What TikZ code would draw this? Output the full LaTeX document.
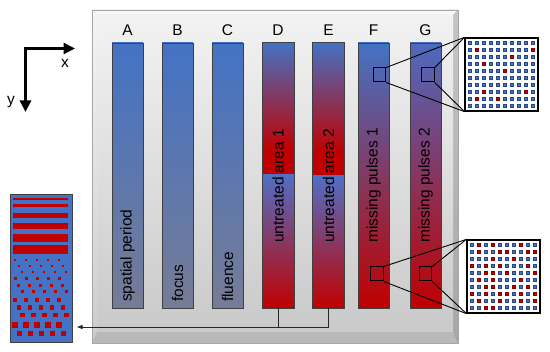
\documentclass[tikz,border=0pt]{standalone}
\usepackage{fontspec}
\setmainfont{Liberation Sans}
\usetikzlibrary{arrows.meta,calc}
\definecolor{pblue}{RGB}{68,114,196}
\definecolor{pred}{RGB}{192,0,0}
\definecolor{abot}{RGB}{118,124,150}
\definecolor{lblue}{RGB}{80,112,198}
\definecolor{fmid}{RGB}{125,65,135}
\definecolor{gtop}{RGB}{78,106,192}
\definecolor{gmid}{RGB}{150,40,95}
\definecolor{dmid}{RGB}{140,50,100}
\definecolor{sqedge}{RGB}{40,70,140}
\tikzset{
  bar/.style={draw=black!75, line width=0.8pt, minimum width=31pt, minimum height=265pt, inner sep=0pt},
  barborder/.style={draw=black!75, line width=0.8pt},
  lab/.style={inner sep=0pt},
  vtext/.style={rotate=90, anchor=west, inner sep=0pt},
  zbox/.style={draw=black, line width=1.2pt, fill=white, minimum width=73pt, minimum height=73pt, inner sep=0pt},
  mark box/.style={draw=black, line width=1pt, minimum width=12.5pt, minimum height=14pt, inner sep=0pt},
  zline/.style={draw=black, line width=0.9pt},
  bsq/.style={fill=pblue, draw=sqedge, line width=0.25pt},
  rsq/.style={fill=pred, draw=pred!70!black, line width=0.25pt},
  axis/.style={line width=3.3pt, line join=miter, {Triangle[length=11.5pt,width=11pt]}-{Triangle[length=11.5pt,width=11pt]}},
  conn/.style={draw=black!85, line width=0.8pt}
}
\begin{document}
\begin{tikzpicture}[x=1pt,y=-1pt, font=\fontsize{15.5}{18}\selectfont]
\useasboundingbox (0,0) rectangle (550,352);
% ---------- panel ----------
\shade[top color=gray!12, bottom color=gray!55] (92,10) rectangle (458,343);
\fill[gray!6] (92,10) -- (458,10) -- (453,15) -- (97,15) -- cycle;
\shade[top color=gray!8, bottom color=gray!40] (92,10) -- (97,15) -- (97,332) -- (92,343) -- cycle;
\fill[gray!55] (92,343) -- (97,332) -- (453,332) -- (458,343) -- cycle;
\shade[top color=gray!45, bottom color=gray!70] (458,10) -- (453,15) -- (453,332) -- (458,343) -- cycle;
\shade[top color=gray!10, bottom color=gray!42] (97,15) rectangle (453,332);
\draw[gray!70, line width=0.6pt] (92,10) rectangle (458,343);
% ---------- column labels ----------
\node[lab] (lA) at (127.5,30) {A};
\node[lab] (lB) at (177.5,30) {B};
\node[lab] (lC) at (227.5,30) {C};
\node[lab] (lD) at (278,30) {D};
\node[lab] (lE) at (328.5,30) {E};
\node[lab] (lF) at (373.5,30) {F};
\node[lab] (lG) at (425.5,30) {G};
% ---------- bars ----------
\node[bar, top color=pblue, bottom color=abot] (A) at (127.5,175.5) {};
\node[bar, top color=pblue, bottom color=abot] (B) at (177.5,175.5) {};
\node[bar, top color=pblue, bottom color=abot] (C) at (227.5,175.5) {};
\node[bar, top color=lblue, bottom color=pred] (D) at (278,175.5) {};
\node[bar, top color=lblue, bottom color=pred] (E) at (328.5,175.5) {};
\node[bar, top color=pblue, middle color=fmid, bottom color=pred] (F) at (373.5,175.5) {};
\node[bar, top color=gtop, middle color=gmid, bottom color=pred] (G) at (425.5,175.5) {};
% lower parts of D and E (blue -> red), upper parts (blue -> red)
\shade[top color=lblue, middle color=dmid, bottom color=pred] (D.west |- 0,174) rectangle (D.south east);
\shade[top color=lblue, middle color=dmid, bottom color=pred] (E.west |- 0,175) rectangle (E.south east);
\fill[pred] (D.west |- 0,150) rectangle (D.east |- 0,174);
\fill[pred] (E.west |- 0,152) rectangle (E.east |- 0,175);
\shade[top color=pblue, bottom color=pred] (D.north west) rectangle (D.east |- 0,150);
\shade[top color=pblue, bottom color=pred] (E.north west) rectangle (E.east |- 0,152);
\draw[barborder] (D.north west) rectangle (D.south east);
\draw[barborder] (E.north west) rectangle (E.south east);
% ---------- bar texts ----------
\node[vtext] (tA) at (127.5,302) {spatial period};
\node[vtext] (tB) at (177.5,302) {focus};
\node[vtext] (tC) at (227.5,302) {fluence};
\node[vtext] (tD) at (278,243) {untreated area 1};
\node[vtext] (tE) at (328.5,243) {untreated area 2};
\node[vtext] (tF) at (373.5,243) {missing pulses 1};
\node[vtext] (tG) at (425.5,243) {missing pulses 2};
% ---------- zoom boxes ----------
\node[zbox] (z1) at (501.5,74.5) {};
\node[zbox] (z2) at (503.5,276.5) {};
\node[mark box] (mF1) at (379.5,75) {};
\node[mark box] (mG1) at (428,75) {};
\node[mark box] (mF2) at (377,274) {};
\node[mark box] (mG2) at (425.5,274) {};
\draw[zline] (mF1.north east) -- (z1.north west);
\draw[zline] (mF1.south east) -- (z1.south west);
\draw[zline] (mG1.north east) -- (z1.north west);
\draw[zline] (mG1.south east) -- (z1.south west);
\draw[zline] (mF2.north east) -- (z2.north west);
\draw[zline] (mF2.south east) -- (z2.south west);
\draw[zline] (mG2.north east) -- (z2.north west);
\draw[zline] (mG2.south east) -- (z2.south west);
% grids
\foreach \i in {0,...,9}{
  \foreach \j in {0,...,9}{
    \path[bsq] ($(z1.north west)+(5+7*\i-1.7,5+7*\j-1.7)$) rectangle ++(3.4,3.4);
    \path[bsq] ($(z2.north west)+(5+7*\i-1.7,5+7*\j-1.7)$) rectangle ++(3.4,3.4);
  }
}
\foreach \c/\r in {2/2,10/2,7/3,3/4,6/5,3/8,9/8,2/9,5/9}{
  \path[rsq] ($(z1.north west)+(5+7*\c-7-1.7,5+7*\r-7-1.7)$) rectangle ++(3.4,3.4);
}
\foreach \c/\r in {2/1,4/1,8/1, 2/2,5/2,6/2,9/2,10/2, 4/3,7/3, 1/4,3/4,5/4,9/4, 3/5,4/5,6/5,10/5, 2/6,4/6,8/6, 3/7,4/7,7/7,9/7, 1/8,3/8,5/8,6/8,8/8,10/8, 2/9,5/9,8/9,10/9, 3/10,4/10}{
  \path[rsq] ($(z2.north west)+(5+7*\c-7-1.7,5+7*\r-7-1.7)$) rectangle ++(3.4,3.4);
}
% ---------- axes ----------
\coordinate (xo) at (25.5,48.5);
\coordinate (xt) at (75,48.5);
\coordinate (yt) at (25.5,112);
\draw[axis] (xt) -- (xo) -- (yt);
\node[lab] (xl) at (65,63) {x};
\node[lab] (yl) at (11,102) {y};
% ---------- left strip ----------
\node[draw=black!75, line width=0.8pt, fill=pblue, minimum width=62pt, minimum height=148pt, inner sep=0pt] (strip) at (41,268) {};
\foreach \a/\b in {197.7/200.3, 204/207.3, 213/218, 223/229.3, 233.7/241.7, 245/254}{
  \fill[pred] (13,\a) rectangle (68,\b);
}
\foreach \ya/\yb/\yc/\s in {260/266/272/2, 279/285.5/292/3, 300/307.5/315/4.3}{
  \foreach \k in {0,...,4}{
    \fill[pred] (15+11*\k-\s/2,\ya-\s/2) rectangle ++(\s,\s);
    \fill[pred] (18.7+11*\k-\s/2,\yb-\s/2) rectangle ++(\s,\s);
    \fill[pred] (22.4+11*\k-\s/2,\yc-\s/2) rectangle ++(\s,\s);
  }
}
\foreach \k in {0,...,4}{
  \fill[pred] (15+11*\k-2.65,325-2.65) rectangle ++(5.3,5.3);
  \fill[pred] (19.3+11*\k-2.65,333.5-2.65) rectangle ++(5.3,5.3);
}
% ---------- connector ----------
\coordinate (tip) at (76.5,327);
\draw[conn] (D.south) -- (D.south |- tip);
\draw[conn, -{Latex[length=6pt,width=4.5pt]}] (E.south) |- (tip);
\end{tikzpicture}
\end{document}
